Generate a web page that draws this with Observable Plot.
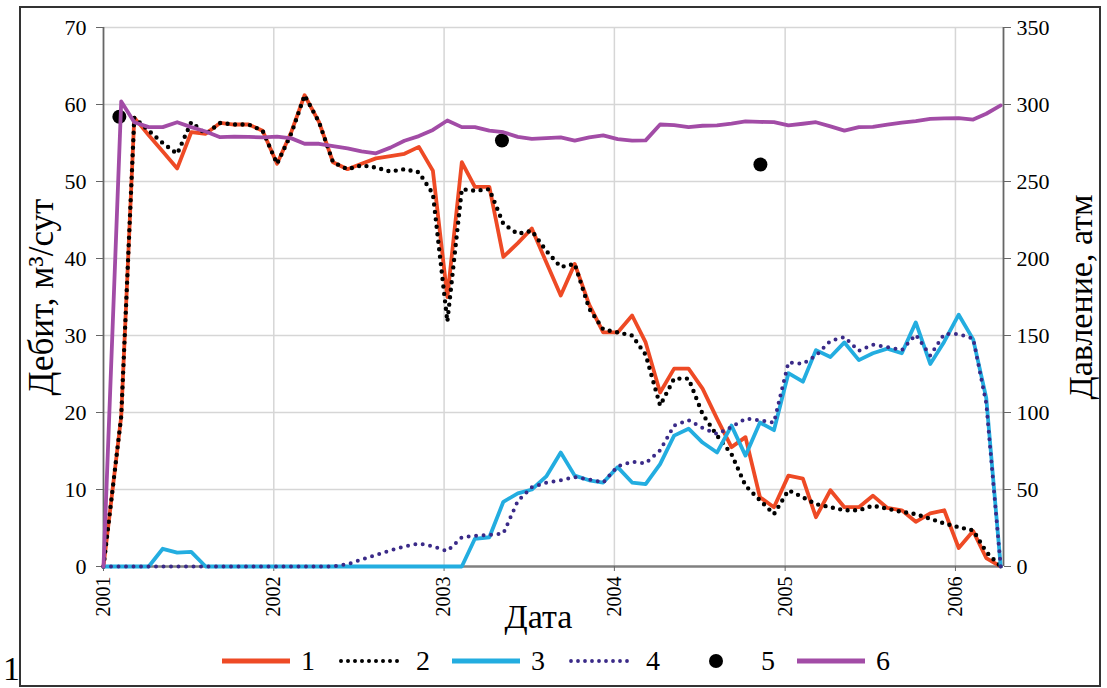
<!DOCTYPE html>
<html>
<head>
<meta charset="utf-8">
<script src="https://cdn.jsdelivr.net/npm/d3@7"></script>
<script src="https://cdn.jsdelivr.net/npm/@observablehq/plot@0.6"></script>
<style>
  html, body { margin: 0; padding: 0; background: #fff; }
  #wrap { position: relative; width: 1107px; height: 688px; font-family: "Liberation Serif", serif; overflow: hidden; }
  #frame { position: absolute; left: 19px; top: 6px; width: 1082px; height: 681px; border: 2px solid #333; box-sizing: border-box; pointer-events: none; }
  #chart { position: absolute; left: 0; top: 0; }
  #chart svg text { font-family: "Liberation Serif", serif; }
  #legend { position: absolute; left: 0; top: 640px; height: 42px; width: 1107px; display: flex; align-items: center; padding-left: 222px; box-sizing: border-box; }
  .item { width: 115px; display: flex; align-items: center; flex: none; }
  .item svg { display: block; }
  .item span { margin-left: 11px; font-family: "Liberation Serif", serif; font-size: 28px; line-height: 28px; color: #000; }
  #corner { position: absolute; left: 3px; top: 652px; font-family: "Liberation Serif", serif; font-size: 34px; line-height: 34px; color: #000; }
</style>
</head>
<body>
<div id="wrap">
  <div id="chart"></div>
  <div id="legend"></div>
  <div id="corner">1</div>
  <div id="frame"></div>
</div>
<script>
// ---- Data ----
// monthly samples, Jan 2001 .. Apr 2006 (64 points)
const monthCount = 64;
// 1 — red solid, Дебит (м³/сут)
const series1 = [0,19.5,58.3,56.0,53.9,51.7,56.4,56.2,57.6,57.4,
  57.4,56.6,52.3,56.5,61.2,57.7,52.5,51.6,52.3,53.0,
  53.3,53.6,54.5,51.4,35.0,52.5,49.3,49.3,40.2,42.0,
  43.9,39.5,35.2,39.3,34.0,30.4,30.4,32.6,29.1,22.6,
  25.7,25.7,23.1,19.2,15.5,16.8,9.0,7.7,11.8,11.4,
  6.4,9.9,7.7,7.7,9.2,7.6,7.3,5.8,6.9,7.3,
  2.4,4.6,1.1,0];
// 2 — black dotted
const series2 = [0,19.5,58.3,56.6,55.0,53.6,57.7,56.2,57.6,57.4,
  57.4,56.6,52.3,56.3,61.2,57.7,52.5,51.6,52.1,51.8,
  51.3,51.6,51.2,48.4,31.8,49.0,48.8,49.0,44.5,43.2,
  43.6,41.0,38.9,39.3,33.5,30.8,30.4,30.0,27.5,20.9,
  24.4,24.4,19.8,17.0,14.6,10.5,8.6,6.8,9.9,9.0,
  8.1,7.7,7.3,7.3,7.9,7.5,7.1,6.8,6.2,5.6,
  5.1,4.7,1.9,0];
// 3 — cyan solid
const series3 = [0,0,0,0,2.3,1.8,1.9,0,0,0,
  0,0,0,0,0,0,0,0,0,0,
  0,0,0,0,0,0,3.6,3.8,8.4,9.5,
  10.0,11.7,14.8,11.8,11.2,10.9,12.9,10.9,10.7,13.3,
  17.0,17.9,16.1,14.8,18.3,14.4,18.7,17.7,25.1,24.0,
  28.1,27.2,29.1,26.8,27.7,28.3,27.7,31.7,26.3,29.2,
  32.7,29.5,21.9,0];
// 4 — dark purple dotted
const series4 = [0,0,0,0,0,0,0,0,0,0,
  0,0,0,0,0,0,0,0.3,0.9,1.5,
  2.1,2.6,3.0,2.6,2.0,3.8,4.0,4.1,4.3,8.5,
  10.3,10.9,11.2,11.6,11.3,10.9,13.0,13.6,13.4,15.1,
  18.3,19.0,18.0,17.2,18.1,19.2,19.0,18.7,26.5,26.3,
  27.4,29.3,29.8,28.0,28.8,28.5,28.1,30.1,27.4,30.2,
  30.2,29.6,21.2,0];
// 6 — purple solid, Давление (атм), right axis
const series6 = [0,302,288.5,285.3,285.3,288.5,285.3,282.5,278.8,279.2,
  279,278.6,279.2,278,274.5,274.5,273,271.5,269.5,268.3,
  272,276.5,279.5,283.5,289.6,285.3,285.3,283,282,279,
  277.7,278.2,278.6,276.6,278.6,279.9,277.5,276.6,276.7,287,
  286.6,285.3,286.2,286.4,287.6,289,288.7,288.5,286.4,287.5,
  288.5,285.8,283,285.3,285.5,287,288.3,289.2,290.7,291,
  291.2,290.2,294,299.4];
// 5 — black dots, Давление (атм)
const dotDates = ["2001-02-04", "2003-05-05", "2004-11-09"];
const dotValues = [292, 276.6, 261];

const yTicks = [0, 10, 20, 30, 40, 50, 60, 70];
const pressureTicks = [0, 50, 100, 150, 200, 250, 300, 350];
const yearTicks = ["2001", "2002", "2003", "2004", "2005", "2006"];
const legendLabels = ["1", "2", "3", "4", "5", "6"];

// ---- Build tables ----
const dates = d3.range(monthCount).map(i => i === 0 ? new Date(Date.UTC(2001, 0, 1)) : new Date(Date.UTC(2001, i, 8)));
const rows = dates.map((d, i) => ({date: d, s1: series1[i], s2: series2[i], s3: series3[i], s4: series4[i], p: series6[i]}));
const dots = dotDates.map((d, i) => ({date: new Date(d + "T00:00Z"), p: dotValues[i]}));
const xDomain = [new Date(Date.UTC(2001, 0, 1)), new Date(Date.UTC(2006, 3, 14))];
const xTickDates = yearTicks.map(y => new Date(Date.UTC(+y, 0, 1)));
const pScale = 350 / 70; // right axis factor

const FF = "Liberation Serif, serif";
const C = {red: "#ee4a25", black: "#000", cyan: "#23ade0", dpurple: "#3a2a88", purple: "#a24ca6", grid: "#d6d6d6", axis: "#666"};

const chart = Plot.plot({
  width: 1107,
  height: 640,
  marginLeft: 103,
  marginRight: 104,
  marginTop: 27,
  marginBottom: 74,
  x: {type: "utc", domain: xDomain},
  y: {domain: [0, 70]},
  style: {fontFamily: FF, background: "transparent", color: "#000", overflow: "visible"},
  marks: [
    Plot.ruleY(yTicks.slice(1), {stroke: C.grid, strokeWidth: 1.5}),
    Plot.ruleX(xTickDates.slice(1), {stroke: C.grid, strokeWidth: 1.5}),
    Plot.ruleX([xDomain[0]], {stroke: C.axis, strokeWidth: 1.8}),
    Plot.ruleX([xDomain[1]], {stroke: C.axis, strokeWidth: 1.8}),
    Plot.ruleY([0], {stroke: "#808080", strokeWidth: 2.5}),
    Plot.axisY(yTicks, {anchor: "left", tickSize: 7, tickPadding: 10, fontSize: 22, fontFamily: FF, stroke: C.axis, label: null}),
    Plot.axisY(yTicks, {anchor: "right", tickSize: 7, tickPadding: 6, fontSize: 22, fontFamily: FF, stroke: C.axis, label: null,
      tickFormat: (d, i) => String(pressureTicks[i])}),
    Plot.axisX(xTickDates, {anchor: "bottom", tickSize: 5, tickPadding: 5, tickRotate: -90, fontSize: 20, fontFamily: FF, stroke: C.axis, label: null,
      tickFormat: (d, i) => yearTicks[i]}),
    Plot.text(["Дебит, м³/сут"], {frameAnchor: "left", dx: -62, rotate: -90, textAnchor: "middle", fontSize: 35, fontFamily: FF}),
    Plot.text(["Давление, атм"], {frameAnchor: "right", dx: 78, rotate: -90, textAnchor: "middle", fontSize: 34, fontFamily: FF}),
    Plot.text(["Дата"], {frameAnchor: "bottom", dx: -15, dy: 61, textAnchor: "middle", fontSize: 34, fontFamily: FF}),
    Plot.lineY(rows, {x: "date", y: "s1", stroke: C.red, strokeWidth: 3.8, strokeLinejoin: "round"}),
    Plot.lineY(rows, {x: "date", y: "s2", stroke: C.black, strokeWidth: 4.4, strokeDasharray: "0,7.5", strokeLinecap: "round"}),
    Plot.lineY(rows, {x: "date", y: "s3", stroke: C.cyan, strokeWidth: 3.8, strokeLinejoin: "round"}),
    Plot.lineY(rows, {x: "date", y: "s4", stroke: C.dpurple, strokeWidth: 4, strokeDasharray: "0,7.5", strokeLinecap: "round"}),
    Plot.dot(dots, {x: "date", y: d => d.p / pScale, r: 7, fill: "#000", stroke: "none"}),
    Plot.lineY(rows, {x: "date", y: d => d.p / pScale, stroke: C.purple, strokeWidth: 3.8, strokeLinejoin: "round"})
  ]
});
document.getElementById("chart").appendChild(chart);

// ---- Legend ----
const legendSpec = [
  {type: "line", color: C.red},
  {type: "dots", color: C.black, w: 4, gap: 7},
  {type: "line", color: C.cyan},
  {type: "dots", color: C.dpurple, w: 3.8, gap: 7},
  {type: "dot", color: "#000"},
  {type: "line", color: C.purple}
];
const legend = document.getElementById("legend");
legendSpec.forEach((s, i) => {
  const item = document.createElement("div");
  item.className = "item";
  const svg = d3.create("svg").attr("width", 68).attr("height", 20);
  if (s.type === "line") {
    svg.append("line").attr("x1", 0).attr("x2", 68).attr("y1", 10).attr("y2", 10)
      .attr("stroke", s.color).attr("stroke-width", 5);
  } else if (s.type === "dots") {
    svg.append("line").attr("x1", 4).attr("x2", 66).attr("y1", 10).attr("y2", 10)
      .attr("stroke", s.color).attr("stroke-width", s.w).attr("stroke-linecap", "round")
      .attr("stroke-dasharray", `0,${s.gap}`);
  } else {
    svg.append("circle").attr("cx", 34).attr("cy", 10).attr("r", 7).attr("fill", s.color);
  }
  item.appendChild(svg.node());
  const lab = document.createElement("span");
  lab.textContent = legendLabels[i];
  item.appendChild(lab);
  legend.appendChild(item);
});
</script>
</body>
</html>
